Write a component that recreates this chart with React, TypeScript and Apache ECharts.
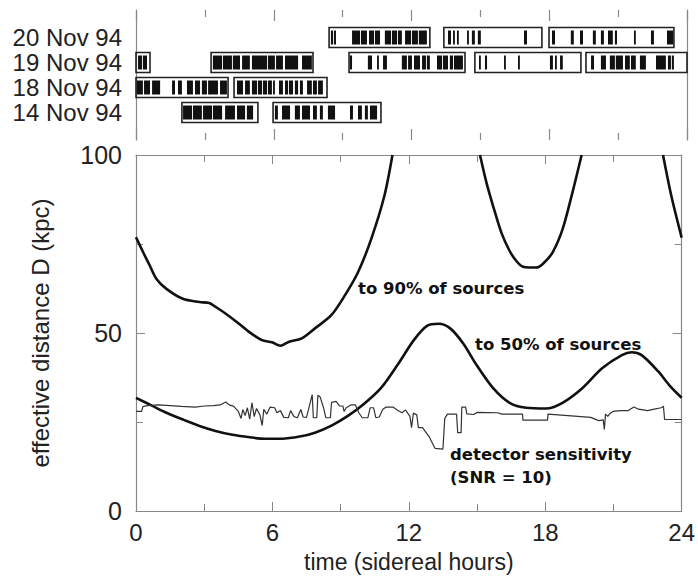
import React, { useEffect, useRef } from 'react';
import * as echarts from 'echarts';

// ---------- observation panel (hours) ----------
const rowLabels = ['14 Nov 94', '18 Nov 94', '19 Nov 94', '20 Nov 94'];

const boxes14 = [[2.0, 5.31], [5.97, 10.67]];
const bars14 = [
  [2.05, 2.44], [2.48, 2.87], [2.92, 3.31], [3.35, 3.75], [3.88, 4.31], [4.4, 4.75], [4.83, 5.1],
  [6.05, 6.18], [6.36, 6.71], [6.92, 7.14], [7.23, 7.58], [7.71, 7.88], [8.01, 8.14], [8.36, 8.67],
  [9.32, 9.45], [9.67, 9.84], [9.97, 10.1], [10.19, 10.5],
];
const boxes18 = [[0.0, 4.01], [4.27, 8.32]];
const bars18 = [
  [0.04, 0.3], [0.35, 0.61], [0.7, 1.05], [1.57, 1.7], [1.83, 2.0], [2.22, 2.48], [2.57, 2.79],
  [2.87, 3.09], [3.14, 3.57], [3.66, 3.96],
  [4.4, 4.66], [4.75, 4.96], [5.05, 5.27], [5.31, 5.49], [5.53, 5.71], [5.75, 5.92], [5.97, 6.05],
  [6.23, 6.4], [6.49, 6.62], [6.66, 6.84], [6.92, 7.06], [7.14, 7.27], [7.45, 7.66], [7.71, 7.88],
  [7.93, 8.14],
];
const boxes19 = [[0.0, 0.61], [3.27, 7.71], [9.28, 14.33], [14.76, 19.38], [19.6, 24.0]];
const bars19 = [
  [0.09, 0.26], [0.3, 0.48],
  [3.35, 3.75], [3.79, 4.18], [4.22, 4.53], [4.62, 4.96], [5.05, 5.71], [5.75, 6.05], [6.1, 6.4],
  [6.49, 7.06], [7.23, 7.66],
  [9.32, 9.41], [10.1, 10.28], [10.5, 10.58], [10.76, 10.93], [11.58, 11.8], [11.85, 12.02],
  [12.11, 12.37], [12.46, 12.63], [12.67, 12.8], [13.11, 13.33], [13.37, 13.59], [13.67, 13.81],
  [13.85, 14.24],
  [14.94, 15.02], [15.2, 15.29], [16.03, 16.11], [16.64, 16.72], [18.03, 18.16], [18.25, 18.33],
  [18.47, 18.59],
  [19.82, 19.95], [20.25, 20.47], [20.64, 20.86], [20.9, 21.21], [21.3, 21.51], [21.56, 21.77],
  [21.95, 22.21], [22.65, 23.08], [23.17, 23.3], [23.34, 23.43],
];
const boxes20 = [[8.41, 12.8], [13.41, 17.68], [17.99, 23.43]];
const bars20 = [
  [8.49, 8.58], [8.62, 8.71], [9.41, 9.76], [9.8, 10.06], [10.15, 10.37], [10.41, 10.63],
  [10.84, 11.11], [11.15, 11.37], [11.41, 11.58], [11.72, 11.98], [12.02, 12.28], [12.32, 12.67],
  [13.59, 13.72], [13.81, 13.89], [13.98, 14.06], [14.42, 14.5], [14.63, 14.76], [14.89, 15.02],
  [16.9, 17.03],
  [18.12, 18.25], [18.94, 19.07], [19.34, 19.47], [19.9, 20.03], [20.25, 20.38], [20.56, 20.77],
  [20.86, 20.95], [21.69, 21.77], [22.43, 22.56], [23.13, 23.39],
];

// ---------- effective distance (kpc) vs sidereal hours ----------
const ninetyPart1 = [
  [0, 76.9], [0.32, 72.6], [0.61, 68.9], [0.9, 65.2], [1.34, 62.4], [2.06, 59.6], [2.79, 58.7],
  [3.22, 58.4], [3.51, 57.3], [3.95, 55.4], [4.53, 52.6], [4.97, 50.3], [5.54, 48.0], [5.98, 47.4],
  [6.35, 46.4], [6.71, 47.5], [7.29, 48.5], [7.87, 51.3], [8.59, 55.0], [9.18, 60.5], [9.76, 67.0],
  [10.34, 76.3], [10.92, 88.4], [11.28, 100],
];
const ninetyPart2 = [
  [15.13, 100], [15.42, 92.1], [15.71, 85.6], [16.07, 78.2], [16.43, 73.1], [16.72, 70.3],
  [17.02, 68.6], [17.3, 68.4], [17.6, 68.4], [17.89, 69.4], [18.32, 72.6], [18.76, 79.1],
  [19.19, 89.3], [19.6, 100],
];
const ninetyPart3 = [[23.18, 100], [23.55, 88.4], [24, 76.8]];

const fifty = [
  [0, 31.8], [0.7, 29.6], [1.34, 27.6], [2.1, 25.6], [2.79, 23.9], [3.5, 22.5], [4.24, 21.4],
  [5.0, 20.7], [5.69, 20.3], [6.42, 20.3], [7.2, 20.9], [7.87, 22.0], [8.6, 24.0], [9.32, 26.7],
  [10.05, 30.2], [10.77, 34.5], [11.5, 41.0], [12.22, 48.0], [12.8, 52.0], [13.31, 52.6],
  [13.82, 51.3], [14.4, 47.0], [14.98, 41.0], [15.71, 34.5], [16.43, 30.4], [17.16, 29.0],
  [18.03, 28.8], [18.76, 30.4], [19.63, 34.5], [20.5, 40.1], [21.37, 43.8], [21.8, 44.6],
  [22.24, 43.8], [22.97, 39.2], [23.5, 35.0], [24, 31.8],
];

const sensitivity = [
  [0, 28.0], [0.25, 28.0], [0.3, 29.3], [0.5, 29.6], [1.0, 29.8], [1.5, 29.6], [2.0, 29.4],
  [2.6, 29.2], [3.0, 29.5], [3.4, 29.6], [3.7, 29.8], [3.95, 30.6], [4.1, 29.8], [4.3, 29.4],
  [4.5, 28.0], [4.62, 26.0], [4.7, 28.5], [4.8, 26.8], [4.9, 29.0], [5.0, 25.8], [5.1, 30.4],
  [5.2, 26.5], [5.3, 28.8], [5.45, 27.0], [5.55, 24.0], [5.62, 28.6], [5.75, 27.2], [5.9, 29.2],
  [6.1, 29.0], [6.2, 27.6], [6.35, 28.2], [6.5, 26.3], [6.7, 26.2], [6.8, 28.2], [6.95, 26.5],
  [7.1, 26.2], [7.25, 28.5], [7.35, 26.4], [7.5, 26.3], [7.6, 28.8], [7.75, 32.7], [7.8, 26.2],
  [7.95, 26.2], [8.0, 32.5], [8.1, 32.0], [8.25, 29.0], [8.35, 26.2], [8.55, 26.2], [8.6, 30.5],
  [8.8, 30.8], [8.95, 29.5], [9.1, 29.5], [9.15, 28.0], [9.25, 29.0], [9.45, 29.8], [9.65, 29.8],
  [9.8, 27.6], [9.95, 26.2], [10.2, 26.2], [10.3, 29.0], [10.45, 29.0], [10.55, 26.2],
  [10.7, 26.4], [10.85, 28.5], [11.0, 29.2], [11.3, 29.2], [11.5, 28.3], [11.7, 27.6],
  [11.85, 28.4], [12.05, 26.6], [12.12, 23.4], [12.2, 27.5], [12.35, 27.0], [12.42, 23.4],
  [12.6, 23.4], [12.9, 20.8], [13.15, 17.6], [13.5, 17.4], [13.58, 26.0], [13.7, 27.2],
  [14.1, 27.2], [14.15, 22.0], [14.3, 22.0], [14.33, 29.2], [14.5, 29.2], [14.55, 27.3],
  [14.85, 27.1], [15.0, 27.7], [15.9, 27.6], [16.1, 27.2], [17.0, 27.2], [17.02, 25.5],
  [18.1, 25.5], [18.12, 27.2], [19.0, 26.8], [20.0, 26.3], [20.35, 25.4], [20.55, 25.6],
  [20.6, 22.9], [20.65, 27.2], [20.75, 26.6], [20.85, 27.4], [21.0, 28.0], [21.3, 28.2],
  [21.65, 28.2], [21.9, 29.2], [22.1, 28.6], [22.5, 28.2], [22.8, 28.6], [23.1, 29.0],
  [23.2, 29.4], [23.25, 25.7], [24.0, 25.7],
];

const AXIS = '#888';
const TXT = '#222';
const SANS = '"Liberation Sans", Arial, sans-serif';
const BOLD = '"DejaVu Sans", sans-serif';

function withRow(row: number, list: number[][]) {
  return list.map((d) => [row, d[0], d[1]]);
}

export default function App() {
  const ref = useRef<HTMLDivElement>(null);
  useEffect(() => {
    document.body.style.margin = '0';
    if (!ref.current) return;
    const chart = echarts.init(ref.current, null, { renderer: 'svg' });

    const boxData = [
      ...withRow(1, boxes14), ...withRow(2, boxes18), ...withRow(3, boxes19), ...withRow(4, boxes20),
    ];
    const barData = [
      ...withRow(1, bars14), ...withRow(2, bars18), ...withRow(3, bars19), ...withRow(4, bars20),
    ];

    const rectItem = (frac: number, style: any) => (params: any, api: any) => {
      const row = api.value(0);
      const p0 = api.coord([api.value(1), row]);
      const p1 = api.coord([api.value(2), row]);
      const h = api.size([0, frac])[1];
      return {
        type: 'rect',
        shape: { x: p0[0], y: p0[1] - h / 2, width: p1[0] - p0[0], height: h },
        style,
      };
    };

    const topX = (pos: 'top' | 'bottom') => ({
      type: 'value', gridIndex: 0, position: pos, min: 0, max: 24, interval: 6,
      axisLine: { show: true, onZero: false, lineStyle: { color: AXIS, opacity: 0 } },
      axisTick: { show: true, inside: true, length: 11, lineStyle: { color: AXIS, width: 1.2 } },
      minorTick: { show: true, splitNumber: 2, length: 7, lineStyle: { color: AXIS, width: 1.2 } },
      axisLabel: { show: false }, splitLine: { show: false }, minorSplitLine: { show: false },
    });
    const mainX = (pos: 'top' | 'bottom', labels: boolean) => ({
      type: 'value', gridIndex: 1, position: pos, min: 0, max: 24, interval: 6,
      axisLine: { show: true, onZero: false, lineStyle: { color: AXIS, width: 1.2 } },
      axisTick: { show: true, inside: true, length: 9, lineStyle: { color: AXIS } },
      minorTick: { show: true, splitNumber: 2, length: 7, lineStyle: { color: AXIS } },
      axisLabel: { show: labels, fontSize: 24, fontFamily: SANS, color: TXT, margin: 9 },
      splitLine: { show: false }, minorSplitLine: { show: false },
      name: labels ? 'time (sidereal hours)' : '',
      nameLocation: 'middle', nameGap: 39,
      nameTextStyle: { fontSize: 23, fontFamily: SANS, color: TXT },
    });
    const mainY = (pos: 'left' | 'right', labels: boolean) => ({
      type: 'value', gridIndex: 1, position: pos, min: 0, max: 100, interval: 50,
      axisLine: { show: true, onZero: false, lineStyle: { color: AXIS, width: 1.2 } },
      axisTick: { show: true, inside: true, length: 9, lineStyle: { color: AXIS } },
      minorTick: { show: true, splitNumber: 2, length: 7, lineStyle: { color: AXIS } },
      axisLabel: { show: labels, fontSize: 25, fontFamily: SANS, color: TXT, margin: 14 },
      splitLine: { show: false }, minorSplitLine: { show: false },
      name: labels ? 'effective distance D (kpc)' : '',
      nameLocation: 'middle', nameGap: 84,
      nameTextStyle: { fontSize: 24, fontFamily: SANS, color: TXT },
    });

    const curve = (data: number[][]) => ({
      type: 'line', xAxisIndex: 2, yAxisIndex: 2, data, showSymbol: false, symbol: 'none',
      smooth: 0.3, clip: true,
      lineStyle: { color: '#111', width: 2.6 },
    });

    const note = (x: number, y: number, text: string) => ({
      type: 'text', x, y,
      style: { text, fontSize: 16.5, fontWeight: 'bold', fontFamily: BOLD, fill: '#111',
        align: 'left', verticalAlign: 'middle' },
    });

    chart.setOption({
      animation: false,
      backgroundColor: '#fff',
      grid: [
        { left: 136, width: 551, top: 10, height: 130 },
        { left: 136, width: 551, top: 155, height: 359 },
      ],
      xAxis: [topX('bottom'), topX('top'), mainX('bottom', true), mainX('top', false)],
      yAxis: [
        {
          type: 'value', gridIndex: 0, position: 'left', min: -0.1, max: 5.1,
          axisLine: { show: true, onZero: false, lineStyle: { color: AXIS, width: 1.2 } },
          axisTick: { show: false }, splitLine: { show: false },
          axisLabel: {
            show: true, customValues: [1, 2, 3, 4], margin: 14,
            formatter: (v: number) => rowLabels[Math.round(v) - 1] ?? '',
            fontSize: 24, fontFamily: SANS, color: TXT,
          },
        },
        {
          type: 'value', gridIndex: 0, position: 'right', min: -0.1, max: 5.1,
          axisLine: { show: true, onZero: false, lineStyle: { color: AXIS, width: 1.2 } },
          axisTick: { show: false }, splitLine: { show: false }, axisLabel: { show: false },
        },
        mainY('left', true),
        mainY('right', false),
      ],
      series: [
        {
          type: 'custom', xAxisIndex: 0, yAxisIndex: 0, data: boxData,
          encode: { x: [1, 2], y: 0 }, clip: false,
          renderItem: rectItem(0.8, { fill: 'none', stroke: '#222', lineWidth: 1.6 }),
        },
        {
          type: 'custom', xAxisIndex: 0, yAxisIndex: 0, data: barData,
          encode: { x: [1, 2], y: 0 }, clip: false,
          renderItem: rectItem(0.56, { fill: '#111', stroke: 'none' }),
        },
        curve(ninetyPart1),
        curve(ninetyPart2),
        curve(ninetyPart3),
        curve(fifty),
        {
          type: 'line', xAxisIndex: 2, yAxisIndex: 2, data: sensitivity, showSymbol: false,
          symbol: 'none', smooth: false, clip: true,
          lineStyle: { color: '#333', width: 1.2 },
        },
      ],
      graphic: [
        note(358, 288, 'to 90% of sources'),
        note(475, 344, 'to 50% of sources'),
        note(450, 454, 'detector sensitivity'),
        note(450, 477, '(SNR = 10)'),
      ],
    });
    return () => chart.dispose();
  }, []);
  return <div ref={ref} style={{ width: 698, height: 578 }} />;
}
